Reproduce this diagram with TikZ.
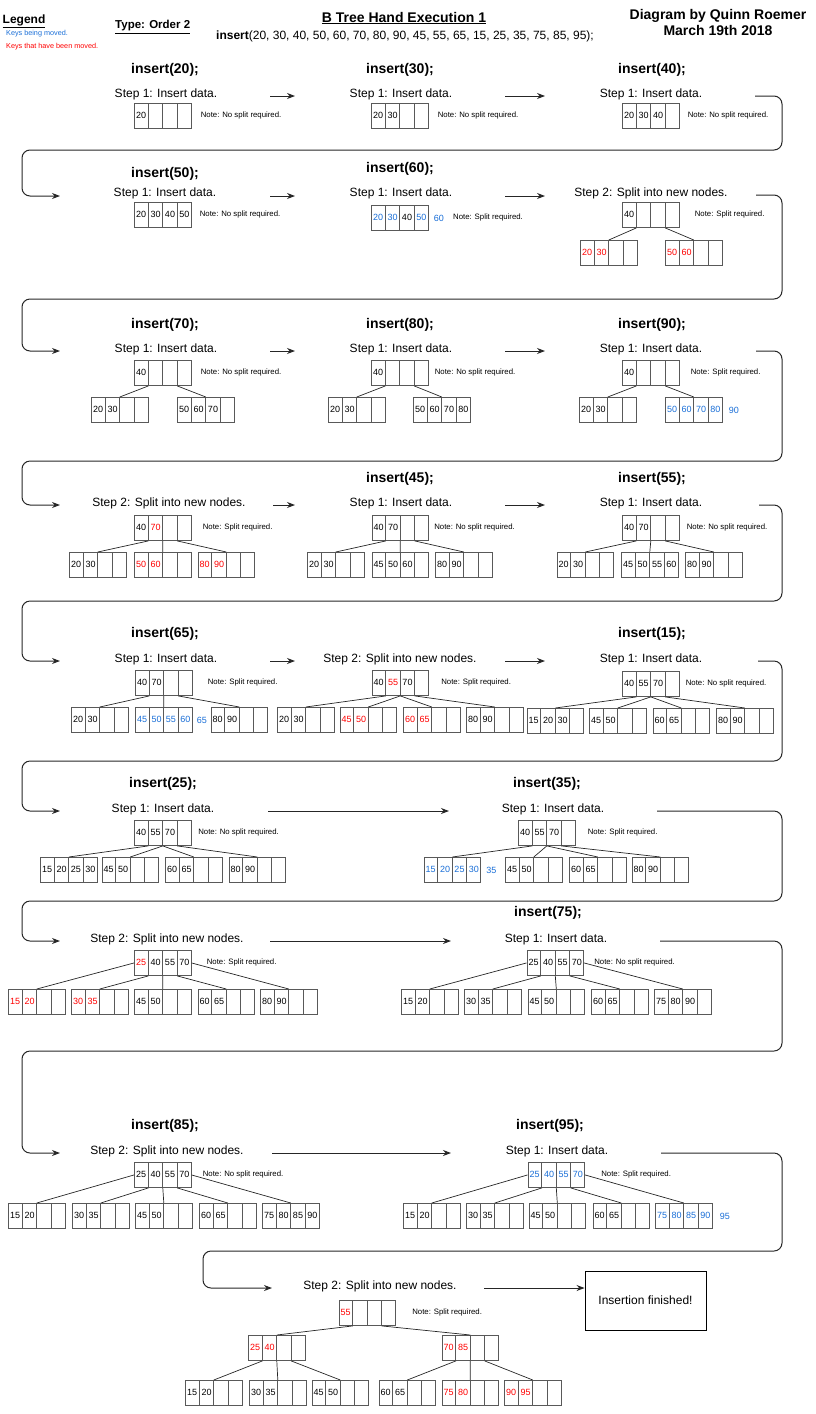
\documentclass[tikz,border=0pt]{standalone}
\usepackage{fontspec}
\setmainfont{Liberation Sans}
\usetikzlibrary{shapes.multipart,arrows.meta,positioning}
\definecolor{movblue}{RGB}{25,110,215}
\definecolor{donered}{RGB}{255,0,0}
\newcommand{\kc}[1]{\makebox[13.5pt]{\rule[-9.5pt]{0pt}{25pt}#1}}
\newcommand{\keys}[4]{\kc{#1}\nodepart{two}\kc{#2}\nodepart{three}\kc{#3}\nodepart{four}\kc{#4}}
\newcommand{\keyb}[1]{\textcolor{movblue}{#1}}
\newcommand{\keyr}[1]{\textcolor{donered}{#1}}
\newcommand{\nosplit}{Note: No split required.}
\newcommand{\dosplit}{Note: Split required.}
\begin{document}
\begin{tikzpicture}[x=1pt, y=-1pt,
    bnode/.style={rectangle split, rectangle split horizontal, rectangle split parts=4, draw=black!65, line width=0.9pt, inner sep=0pt, anchor=north west, font=\fontsize{9}{9}\selectfont},
    xkey/.style={inner sep=0pt, font=\fontsize{9}{9}\selectfont},
    op/.style={font=\fontsize{14}{16}\selectfont\bfseries},
    stage/.style={inner sep=0pt, font=\fontsize{12}{14}\selectfont},
    note/.style={inner sep=0pt, font=\fontsize{7.8}{9}\selectfont},
    flow/.style={draw=black!85, line width=1pt, -{Stealth[length=8pt,width=6pt]}},
    wrap/.style={flow, rounded corners=8pt},
    link/.style={draw=black!85, line width=0.7pt}]
    \useasboundingbox (0,0) rectangle (815,1414);

    % Header
    \node[anchor=west, inner sep=0pt, font=\fontsize{12}{14}\selectfont\bfseries] (legend) at (2.5,21) {\underline{Legend}};
    \node[anchor=west, inner sep=0pt, font=\fontsize{7.25}{8}\selectfont, text=movblue] (legb) at (6,34) {Keys being moved.};
    \node[anchor=west, inner sep=0pt, font=\fontsize{7.25}{8}\selectfont, text=donered] (legr) at (6,47) {Keys that have been moved.};
    \node[anchor=west, inner sep=0pt, font=\fontsize{11.5}{13}\selectfont\bfseries] (order) at (115,27) {\underline{Type: Order 2}};
    \node[op] (head) at (404,18) {\underline{B Tree Hand Execution 1}};
    \node[stage] (seq) at (405,36) {\textbf{insert}(20, 30, 40, 50, 60, 70, 80, 90, 45, 55, 65, 15, 25, 35, 75, 85, 95);};
    \node[op, align=center] (auth) at (718,22) {Diagram by Quinn Roemer\\March 19th 2018};

    % Row 1: insert(20), insert(30), insert(40)
    \node[op] (t20) at (165,70) {insert(20);};
    \node[stage] (s20) at (166,94) {Step 1: Insert data.};
    \node[bnode] (b20) at (134,103) {\keys{20}{}{}{}};
    \node[note, right=9pt of b20] (n20) {\nosplit};
    \node[op] (t30) at (400,70) {insert(30);};
    \node[stage] (s30) at (401,94) {Step 1: Insert data.};
    \node[bnode] (b30) at (371,103) {\keys{20}{30}{}{}};
    \node[note, right=9pt of b30] (n30) {\nosplit};
    \node[op] (t40) at (652,70) {insert(40);};
    \node[stage] (s40) at (651,94) {Step 1: Insert data.};
    \node[bnode] (b40) at (622,103) {\keys{20}{30}{40}{}};
    \node[note, right=8pt of b40] (n40) {\nosplit};
    \coordinate (r1a) at (270,96); \coordinate (r1b) at (295,96);
    \coordinate (r1c) at (505,96); \coordinate (r1d) at (545,96);
    \draw[flow] (r1a) -- (r1b);
    \draw[flow] (r1c) -- (r1d);
    \coordinate (w1a) at (755,96); \coordinate (w1b) at (60,196);
    \draw[wrap] (w1a) -| (782,150) -- (22,150) |- (w1b);

    % Row 2: insert(50), insert(60)
    \node[op] (t50) at (165,174) {insert(50);};
    \node[stage] (s50) at (165,193) {Step 1: Insert data.};
    \node[bnode] (b50) at (134,202) {\keys{20}{30}{40}{50}};
    \node[note, right=8pt of b50] (n50) {\nosplit};
    \node[op] (t60) at (400,169) {insert(60);};
    \node[stage] (s60) at (401,193) {Step 1: Insert data.};
    \node[bnode] (b60) at (371,205) {\keys{\keyb{20}}{\keyb{30}}{40}{\keyb{50}}};
    \node[xkey, right=5pt of b60] (b60x) {\keyb{60}};
    \node[note, right=9pt of b60x] (n60) {\dosplit};
    \node[stage] (s60b) at (651,193) {Step 2: Split into new nodes.};
    \node[bnode] (p60) at (622,202) {\keys{40}{}{}{}};
    \node[note, right=15pt of p60] (n60b) {\dosplit};
    \node[bnode] (p60a) at (580,240) {\keys{\keyr{20}}{\keyr{30}}{}{}};
    \node[bnode] (p60b) at (665,240) {\keys{\keyr{50}}{\keyr{60}}{}{}};
    \draw[link] (p60.one split south) -- (p60a.two split north) (p60.three split south) -- (p60b.two split north);
    \coordinate (r2a) at (270,196); \coordinate (r2b) at (295,196);
    \coordinate (r2c) at (505,196); \coordinate (r2d) at (545,196);
    \draw[flow] (r2a) -- (r2b);
    \draw[flow] (r2c) -- (r2d);
    \coordinate (w2a) at (756,195); \coordinate (w2b) at (60,351);
    \draw[wrap] (w2a) -| (782,299) -- (22,299) |- (w2b);

    % Row 3: insert(70), insert(80), insert(90)
    \node[op] (t70) at (165,325) {insert(70);};
    \node[stage] (s70) at (166,349) {Step 1: Insert data.};
    \node[bnode] (p70) at (134,360) {\keys{40}{}{}{}};
    \node[note, right=9pt of p70] (n70) {\nosplit};
    \node[bnode] (p70a) at (91,397) {\keys{20}{30}{}{}};
    \node[bnode] (p70b) at (177,397) {\keys{50}{60}{70}{}};
    \draw[link] (p70.one split south) -- (p70a.two split north) (p70.three split south) -- (p70b.two split north);
    \node[op] (t80) at (400,325) {insert(80);};
    \node[stage] (s80) at (401,349) {Step 1: Insert data.};
    \node[bnode] (p80) at (371,360) {\keys{40}{}{}{}};
    \node[note, right=6pt of p80] (n80) {\nosplit};
    \node[bnode] (p80a) at (328,397) {\keys{20}{30}{}{}};
    \node[bnode] (p80b) at (413,397) {\keys{50}{60}{70}{80}};
    \draw[link] (p80.one split south) -- (p80a.two split north) (p80.three split south) -- (p80b.two split north);
    \node[op] (t90) at (652,325) {insert(90);};
    \node[stage] (s90) at (651,349) {Step 1: Insert data.};
    \node[bnode] (p90) at (622,360) {\keys{40}{}{}{}};
    \node[note, right=11pt of p90] (n90) {\dosplit};
    \node[bnode] (p90a) at (579,397) {\keys{20}{30}{}{}};
    \node[bnode] (p90b) at (665,397) {\keys{\keyb{50}}{\keyb{60}}{\keyb{70}}{\keyb{80}}};
    \node[xkey, right=6pt of p90b] (p90x) {\keyb{90}};
    \draw[link] (p90.one split south) -- (p90a.two split north) (p90.three split south) -- (p90b.two split north);
    \coordinate (r3a) at (270,351); \coordinate (r3b) at (295,351);
    \coordinate (r3c) at (505,351); \coordinate (r3d) at (545,351);
    \draw[flow] (r3a) -- (r3b);
    \draw[flow] (r3c) -- (r3d);
    \coordinate (w3a) at (756,351); \coordinate (w3b) at (60,505);
    \draw[wrap] (w3a) -| (782,461) -- (22,461) |- (w3b);

    % Row 4: split of 90, insert(45), insert(55)
    \node[stage] (s90b) at (169,503) {Step 2: Split into new nodes.};
    \node[bnode] (q90) at (134,515) {\keys{40}{\keyr{70}}{}{}};
    \node[note, right=11pt of q90] (n90b) {\dosplit};
    \node[bnode] (q90a) at (69,552) {\keys{20}{30}{}{}};
    \node[bnode] (q90b) at (134,552) {\keys{\keyr{50}}{\keyr{60}}{}{}};
    \node[bnode] (q90c) at (197.5,552) {\keys{\keyr{80}}{\keyr{90}}{}{}};
    \draw[link] (q90.one split south) -- (q90a.two split north) (q90.two split south) -- (q90b.two split north) (q90.three split south) -- (q90c.two split north);
    \node[op] (t45) at (400,479) {insert(45);};
    \node[stage] (s45) at (401,503) {Step 1: Insert data.};
    \node[bnode] (p45) at (371.5,515) {\keys{40}{70}{}{}};
    \node[note, right=5pt of p45] (n45) {\nosplit};
    \node[bnode] (p45a) at (307,552) {\keys{20}{30}{}{}};
    \node[bnode] (p45b) at (371.5,552) {\keys{45}{50}{60}{}};
    \node[bnode] (p45c) at (435,552) {\keys{80}{90}{}{}};
    \draw[link] (p45.one split south) -- (p45a.two split north) (p45.two split south) -- (p45b.two split north) (p45.three split south) -- (p45c.two split north);
    \node[op] (t55) at (652,479) {insert(55);};
    \node[stage] (s55) at (651,503) {Step 1: Insert data.};
    \node[bnode] (p55) at (622,515) {\keys{40}{70}{}{}};
    \node[note, right=7pt of p55] (n55) {\nosplit};
    \node[bnode] (p55a) at (556.5,552) {\keys{20}{30}{}{}};
    \node[bnode] (p55b) at (621,552) {\keys{45}{50}{55}{60}};
    \node[bnode] (p55c) at (685,552) {\keys{80}{90}{}{}};
    \draw[link] (p55.one split south) -- (p55a.two split north) (p55.two split south) -- (p55b.two split north) (p55.three split south) -- (p55c.two split north);
    \coordinate (r4a) at (273,505); \coordinate (r4b) at (295,505);
    \coordinate (r4c) at (505,505); \coordinate (r4d) at (545,505);
    \draw[flow] (r4a) -- (r4b);
    \draw[flow] (r4c) -- (r4d);
    \coordinate (w4a) at (759,505); \coordinate (w4b) at (60,661);
    \draw[wrap] (w4a) -| (782,601) -- (22,601) |- (w4b);

    % Row 5: insert(65), split of 65, insert(15)
    \node[op] (t65) at (165,634) {insert(65);};
    \node[stage] (s65) at (166,659) {Step 1: Insert data.};
    \node[bnode] (p65) at (135,670) {\keys{40}{70}{}{}};
    \node[note, right=15pt of p65] (n65) {\dosplit};
    \node[bnode] (p65a) at (71,707) {\keys{20}{30}{}{}};
    \node[bnode] (p65b) at (135,707) {\keys{\keyb{45}}{\keyb{50}}{\keyb{55}}{\keyb{60}}};
    \node[xkey, right=4pt of p65b] (p65x) {\keyb{65}};
    \node[bnode] (p65c) at (210.5,707) {\keys{80}{90}{}{}};
    \draw[link] (p65.one split south) -- (p65a.two split north) (p65.two split south) -- (p65b.two split north) (p65.three split south) -- (p65c.two split north);
    \node[stage] (s65b) at (400,659) {Step 2: Split into new nodes.};
    \node[bnode] (q65) at (371.5,670) {\keys{40}{\keyr{55}}{70}{}};
    \node[note, right=12pt of q65] (n65b) {\dosplit};
    \node[bnode] (q65a) at (277,707) {\keys{20}{30}{}{}};
    \node[bnode] (q65b) at (339.5,707) {\keys{\keyr{45}}{\keyr{50}}{}{}};
    \node[bnode] (q65c) at (403,707) {\keys{\keyr{60}}{\keyr{65}}{}{}};
    \node[bnode] (q65d) at (466,707) {\keys{80}{90}{}{}};
    \draw[link] (q65.one split south) -- (q65a.two split north) (q65.two split south) -- (q65b.two split north) (q65.two split south) -- (q65c.two split north) (q65.three split south) -- (q65d.two split north);
    \node[op] (t15) at (652,634) {insert(15);};
    \node[stage] (s15) at (651,659) {Step 1: Insert data.};
    \node[bnode] (p15) at (622,671) {\keys{40}{55}{70}{}};
    \node[note, right=6pt of p15] (n15) {\nosplit};
    \node[bnode] (p15a) at (526.5,708) {\keys{15}{20}{30}{}};
    \node[bnode] (p15b) at (589,708) {\keys{45}{50}{}{}};
    \node[bnode] (p15c) at (652.5,708) {\keys{60}{65}{}{}};
    \node[bnode] (p15d) at (716,708) {\keys{80}{90}{}{}};
    \draw[link] (p15.one split south) -- (p15a.two split north) (p15.two split south) -- (p15b.two split north) (p15.two split south) -- (p15c.two split north) (p15.three split south) -- (p15d.two split north);
    \coordinate (r5a) at (270,661); \coordinate (r5b) at (295,661);
    \coordinate (r5c) at (505,661); \coordinate (r5d) at (545,661);
    \draw[flow] (r5a) -- (r5b);
    \draw[flow] (r5c) -- (r5d);
    \coordinate (w5a) at (758,661); \coordinate (w5b) at (60,811);
    \draw[wrap] (w5a) -| (782,761) -- (22,761) |- (w5b);

    % Row 6: insert(25), insert(35)
    \node[op] (t25) at (163,784) {insert(25);};
    \node[stage] (s25) at (163,809) {Step 1: Insert data.};
    \node[bnode] (p25) at (134,820) {\keys{40}{55}{70}{}};
    \node[note, right=6.5pt of p25] (n25) {\nosplit};
    \node[bnode] (p25a) at (40,857) {\keys{15}{20}{25}{30}};
    \node[bnode] (p25b) at (101.5,857) {\keys{45}{50}{}{}};
    \node[bnode] (p25c) at (165,857) {\keys{60}{65}{}{}};
    \node[bnode] (p25d) at (228.5,857) {\keys{80}{90}{}{}};
    \draw[link] (p25.one split south) -- (p25a.two split north) (p25.two split south) -- (p25b.two split north) (p25.two split south) -- (p25c.two split north) (p25.three split south) -- (p25d.two split north);
    \node[op] (t35) at (547,784) {insert(35);};
    \node[stage] (s35) at (553,809) {Step 1: Insert data.};
    \node[bnode] (p35) at (518,820) {\keys{40}{55}{70}{}};
    \node[note, right=12pt of p35] (n35) {\dosplit};
    \node[bnode] (p35a) at (423.5,857) {\keys{\keyb{15}}{\keyb{20}}{\keyb{25}}{\keyb{30}}};
    \node[xkey, right=5pt of p35a] (p35x) {\keyb{35}};
    \node[bnode] (p35b) at (505,857) {\keys{45}{50}{}{}};
    \node[bnode] (p35c) at (569,857) {\keys{60}{65}{}{}};
    \node[bnode] (p35d) at (631.5,857) {\keys{80}{90}{}{}};
    \draw[link] (p35.one split south) -- (p35a.two split north) (p35.two split south) -- (p35b.two split north) (p35.two split south) -- (p35c.two split north) (p35.three split south) -- (p35d.two split north);
    \coordinate (r6a) at (268,811); \coordinate (r6b) at (449,811);
    \draw[flow] (r6a) -- (r6b);
    \coordinate (w6a) at (657,811); \coordinate (w6b) at (60,941);
    \draw[wrap] (w6a) -| (782,901) -- (22,901) |- (w6b);

    % Row 7: split of 35, insert(75)
    \node[stage] (s35b) at (167,939) {Step 2: Split into new nodes.};
    \node[bnode] (q35) at (134,950) {\keys{\keyr{25}}{40}{55}{70}};
    \node[note, right=15pt of q35] (n35b) {\dosplit};
    \node[bnode] (q35a) at (8,989) {\keys{\keyr{15}}{\keyr{20}}{}{}};
    \node[bnode] (q35b) at (71,989) {\keys{\keyr{30}}{\keyr{35}}{}{}};
    \node[bnode] (q35c) at (134,989) {\keys{45}{50}{}{}};
    \node[bnode] (q35d) at (197.5,989) {\keys{60}{65}{}{}};
    \node[bnode] (q35e) at (260,989) {\keys{80}{90}{}{}};
    \draw[link] (q35.west) -- (q35a.two split north) (q35.one split south) -- (q35b.two split north) (q35.two split south) -- (q35c.two split north) (q35.three split south) -- (q35d.two split north) (q35.east) -- (q35e.two split north);
    \node[op] (t75) at (548,913) {insert(75);};
    \node[stage] (s75) at (556,939) {Step 1: Insert data.};
    \node[bnode] (p75) at (526.5,950) {\keys{25}{40}{55}{70}};
    \node[note, right=10pt of p75] (n75) {\nosplit};
    \node[bnode] (p75a) at (401,989) {\keys{15}{20}{}{}};
    \node[bnode] (p75b) at (464,989) {\keys{30}{35}{}{}};
    \node[bnode] (p75c) at (527.5,989) {\keys{45}{50}{}{}};
    \node[bnode] (p75d) at (591,989) {\keys{60}{65}{}{}};
    \node[bnode] (p75e) at (654,989) {\keys{75}{80}{90}{}};
    \draw[link] (p75.west) -- (p75a.two split north) (p75.one split south) -- (p75b.two split north) (p75.two split south) -- (p75c.two split north) (p75.three split south) -- (p75d.two split north) (p75.east) -- (p75e.two split north);
    \coordinate (r7a) at (270,941); \coordinate (r7b) at (451,941);
    \draw[flow] (r7a) -- (r7b);
    \coordinate (w7a) at (660,941); \coordinate (w7b) at (60,1153);
    \draw[wrap] (w7a) -| (782,1051) -- (22,1051) |- (w7b);

    % Row 8: insert(85), insert(95)
    \node[op] (t85) at (165,1126) {insert(85);};
    \node[stage] (s85) at (167,1151) {Step 2: Split into new nodes.};
    \node[bnode] (p85) at (134,1162) {\keys{25}{40}{55}{70}};
    \node[note, right=11pt of p85] (n85) {\nosplit};
    \node[bnode] (p85a) at (8,1203) {\keys{15}{20}{}{}};
    \node[bnode] (p85b) at (72,1203) {\keys{30}{35}{}{}};
    \node[bnode] (p85c) at (135,1203) {\keys{45}{50}{}{}};
    \node[bnode] (p85d) at (199,1203) {\keys{60}{65}{}{}};
    \node[bnode] (p85e) at (262,1203) {\keys{75}{80}{85}{90}};
    \draw[link] (p85.west) -- (p85a.two split north) (p85.one split south) -- (p85b.two split north) (p85.two split south) -- (p85c.two split north) (p85.three split south) -- (p85d.two split north) (p85.east) -- (p85e.two split north);
    \node[op] (t95) at (550,1126) {insert(95);};
    \node[stage] (s95) at (557,1151) {Step 1: Insert data.};
    \node[bnode] (p95) at (527.5,1162) {\keys{\keyb{25}}{\keyb{40}}{\keyb{55}}{\keyb{70}}};
    \node[note, right=16pt of p95] (n95) {\dosplit};
    \node[bnode] (p95a) at (403,1203) {\keys{15}{20}{}{}};
    \node[bnode] (p95b) at (466,1203) {\keys{30}{35}{}{}};
    \node[bnode] (p95c) at (528.5,1203) {\keys{45}{50}{}{}};
    \node[bnode] (p95d) at (592.5,1203) {\keys{60}{65}{}{}};
    \node[bnode] (p95e) at (655,1203) {\keys{\keyb{75}}{\keyb{80}}{\keyb{85}}{\keyb{90}}};
    \node[xkey, right=7pt of p95e] (p95x) {\keyb{95}};
    \draw[link] (p95.west) -- (p95a.two split north) (p95.one split south) -- (p95b.two split north) (p95.two split south) -- (p95c.two split north) (p95.three split south) -- (p95d.two split north) (p95.east) -- (p95e.two split north);
    \coordinate (r8a) at (272,1153); \coordinate (r8b) at (451,1153);
    \draw[flow] (r8a) -- (r8b);
    \coordinate (w8a) at (661,1153); \coordinate (w8b) at (272,1288);
    \draw[wrap] (w8a) -| (782,1251) -- (203,1251) |- (w8b);

    % Row 9: split of 95, done
    \node[stage] (s95b) at (380,1286) {Step 2: Split into new nodes.};
    \node[bnode] (q95) at (338.5,1300) {\keys{\keyr{55}}{}{}{}};
    \node[note, right=16pt of q95] (n95b) {\dosplit};
    \node[bnode] (q95l) at (248,1335) {\keys{\keyr{25}}{\keyr{40}}{}{}};
    \node[bnode] (q95r) at (441.5,1335) {\keys{\keyr{70}}{\keyr{85}}{}{}};
    \draw[link] (q95.one split south) -- (q95l.two split north) (q95.three split south) -- (q95r.two split north);
    \node[bnode] (q95a) at (185,1380) {\keys{15}{20}{}{}};
    \node[bnode] (q95b) at (249,1380) {\keys{30}{35}{}{}};
    \node[bnode] (q95c) at (311.5,1380) {\keys{45}{50}{}{}};
    \node[bnode] (q95d) at (378.5,1380) {\keys{60}{65}{}{}};
    \node[bnode] (q95e) at (441.5,1380) {\keys{\keyr{75}}{\keyr{80}}{}{}};
    \node[bnode] (q95f) at (504,1380) {\keys{\keyr{90}}{\keyr{95}}{}{}};
    \draw[link] (q95l.one split south) -- (q95a.two split north) (q95l.two split south) -- (q95b.two split north) (q95l.three split south) -- (q95c.two split north);
    \draw[link] (q95r.one split south) -- (q95d.two split north) (q95r.two split south) -- (q95e.two split north) (q95r.three split south) -- (q95f.two split north);
    \node[stage, draw=black, line width=0.9pt, minimum width=121pt, minimum height=59pt] (done) at (645.5,1300.5) {Insertion finished!};
    \coordinate (r9a) at (484,1288);
    \draw[flow] (r9a) -- (r9a -| done.west);
\end{tikzpicture}
\end{document}
